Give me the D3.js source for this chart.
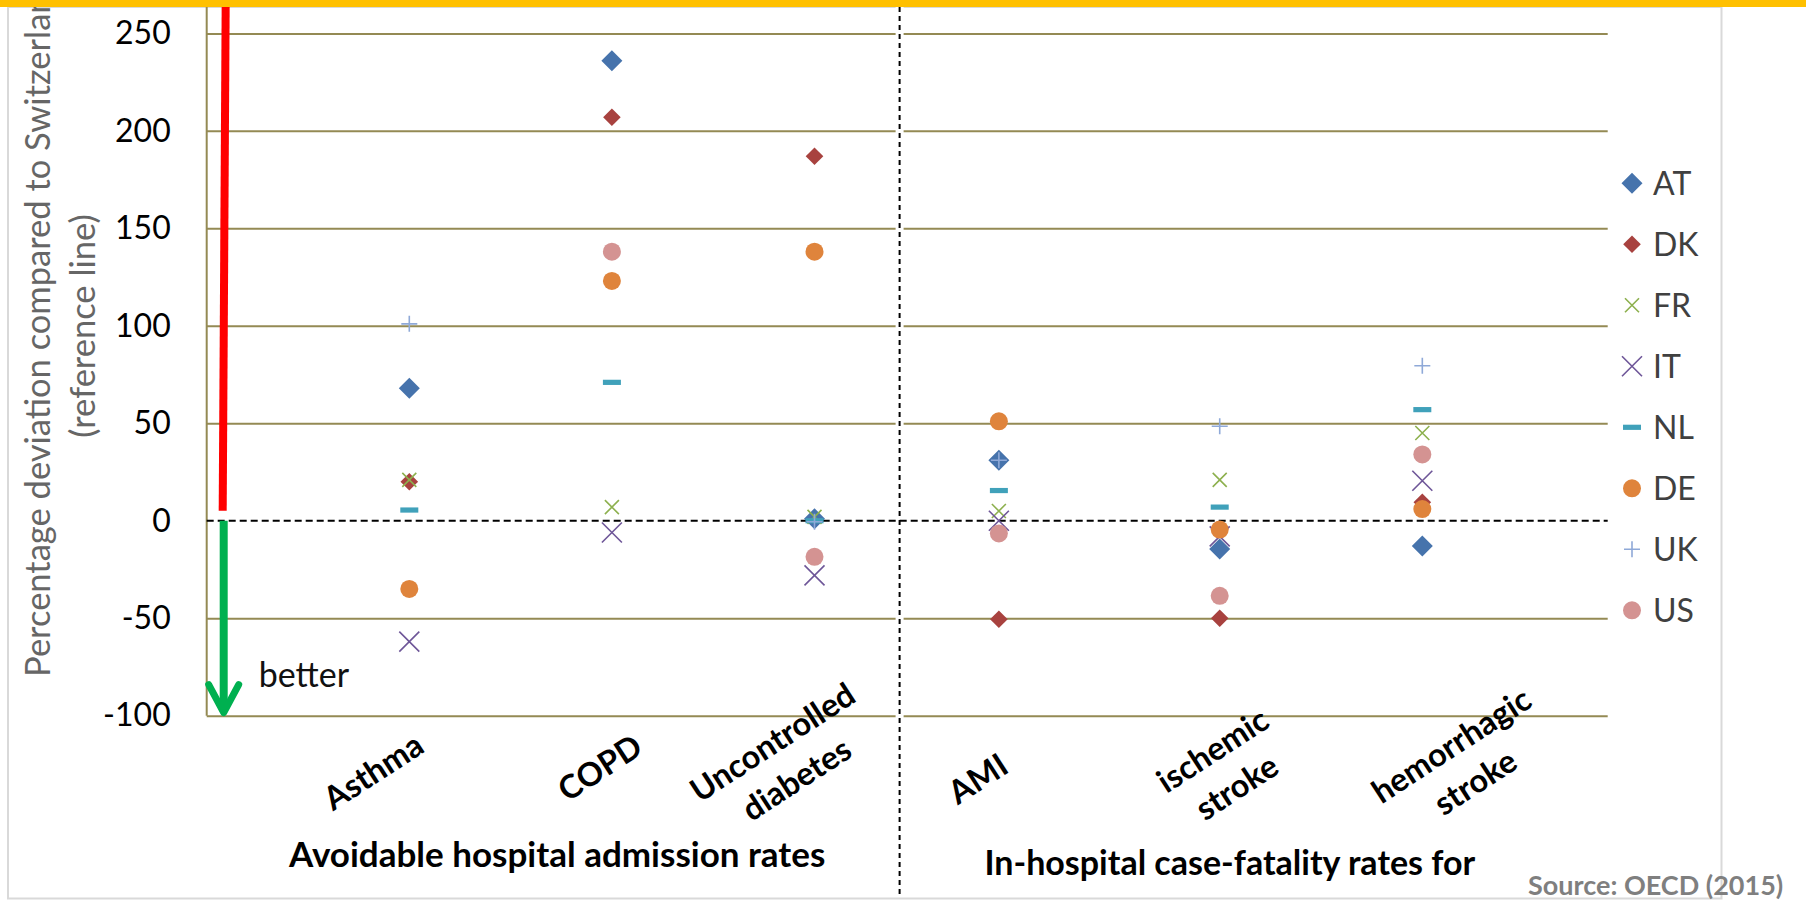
<!DOCTYPE html>
<html>
<head>
<meta charset="utf-8">
<script src="https://cdn.jsdelivr.net/npm/d3@7"></script>
<style>
  body { margin: 0; background: #fff; }
  svg { display: block; }
  text { font-family: Lato, "Open Sans", "Noto Sans", sans-serif; }
</style>
</head>
<body>
<svg id="chart" width="1806" height="901"></svg>
<script>
// ---- data ----
const categories = ["Asthma", "COPD", "Uncontrolled\ndiabetes", "AMI", "ischemic\nstroke", "hemorrhagic\nstroke"];
const categoryX = [1, 2, 3, 3.91, 5, 6];
const groupTitles = ["Avoidable hospital admission rates", "In-hospital case-fatality rates for"];
const countries = ["AT", "DK", "FR", "IT", "NL", "DE", "UK", "US"];

// percentage deviation from Switzerland, one value per category (null = not reported)
const AT = [68, 236, 1, 31, -14.5, -13];
const DK = [20, 207, 187, -50.5, -50, 9.5];
const FR = [21, 7, 2, 5, 21, 45];
const IT = [-62, -6, -28, 0, -8, 20.5];
const NL = [5.5, 71, 0, 15.5, 7, 57];
const DE = [-35, 123, 138, 51, -4.5, 6];
const UK = [101, null, -0.5, 31, 48.5, 79.5];
const US = [null, 138, -18.5, -6.5, -38.5, 34];
const seriesValues = { AT, DK, FR, IT, NL, DE, UK, US };

const yTicks = [250, 200, 150, 100, 50, 0, -50, -100];
const yTitle = ["Percentage deviation compared to Switzerland", "(reference line)"];
const sourceNote = "Source: OECD (2015)";
const arrowNote = "better";

// ---- layout ----
const W = 1806, H = 901;
const plot = { left: 206.7, right: 1607.7, top: 33.4, bottom: 715.7 };
const xDomain = [0, 6.915];
const separatorAt = 3.42;          // boundary between the two indicator groups
const groupTitlePos = [1.73, 5.05];  // x (in axis units) where each group title is centred
// centre of each rotated category label, relative to its tick on the bottom axis
const labelShift = [[-36, 56], [-12, 52], [-30, 45], [-21, 63], [5, 53], [41, 48]];

const style = {
  AT: { shape: "diamond", r: 10.5, color: "#4673AC" },
  DK: { shape: "diamond", r: 8.8, color: "#A8423F" },
  FR: { shape: "x", r: 7, color: "#8DB04E", sw: 1.6 },
  IT: { shape: "x", r: 10, color: "#6E5698", sw: 1.6 },
  NL: { shape: "dash", r: 9, color: "#40A1BA" },
  DE: { shape: "circle", r: 9, color: "#DF843C" },
  UK: { shape: "plus", r: 8, color: "#8FA9D8", sw: 1.6 },
  US: { shape: "circle", r: 9, color: "#D49392" }
};

const svg = d3.select("#chart");
const x = d3.scaleLinear().domain(xDomain).range([plot.left, plot.right]);
const y = d3.scaleLinear().domain([-100, 250]).range([plot.bottom, plot.top]);

// chart frame
svg.append("rect")
  .attr("x", 8).attr("y", 7).attr("width", 1713.5).attr("height", 891.5)
  .attr("fill", "none").attr("stroke", "#D9D9D9").attr("stroke-width", 2);

// horizontal gridlines and tick labels
const yAxis = d3.axisLeft(y)
  .tickValues(yTicks)
  .tickSize(-(plot.right - plot.left))
  .tickPadding(36)
  .tickFormat(d => String(d));
const gy = svg.append("g").attr("transform", `translate(${plot.left},0)`).call(yAxis);
gy.select(".domain").remove();
gy.selectAll(".tick line")
  .attr("stroke", "#948A54").attr("stroke-width", 2)
  .attr("opacity", d => d === 0 ? 0 : 1);
gy.selectAll(".tick text")
  .attr("font-size", 32).attr("fill", "#000")
  .attr("font-family", "Lato, sans-serif");

// left axis line runs to the top of the frame
svg.append("line")
  .attr("x1", plot.left).attr("x2", plot.left)
  .attr("y1", 0).attr("y2", plot.bottom)
  .attr("stroke", "#948A54").attr("stroke-width", 2);

// vertical separator between the two groups
const sx = x(separatorAt);
svg.append("line").attr("x1", sx).attr("x2", sx).attr("y1", 7).attr("y2", 897)
  .attr("stroke", "#fff").attr("stroke-width", 8);
svg.append("line").attr("x1", sx).attr("x2", sx).attr("y1", 7).attr("y2", 897)
  .attr("stroke", "#000").attr("stroke-width", 2).attr("stroke-dasharray", "5,4");

// reference line at zero
svg.append("line")
  .attr("x1", plot.left).attr("x2", plot.right)
  .attr("y1", y(0)).attr("y2", y(0))
  .attr("stroke", "#000").attr("stroke-width", 2).attr("stroke-dasharray", "7,4");

// "worse" / "better" arrows
const ax = plot.left + 17;
svg.append("line")
  .attr("x1", ax + 2).attr("y1", 0).attr("x2", ax - 1).attr("y2", y(0) - 10)
  .attr("stroke", "#FF0000").attr("stroke-width", 8);
svg.append("line")
  .attr("x1", ax).attr("y1", y(0)).attr("x2", ax).attr("y2", y(-100) - 4)
  .attr("stroke", "#00B050").attr("stroke-width", 8);
svg.append("path")
  .attr("d", `M${ax - 15},${y(-100) - 31} L${ax},${y(-100) - 3} L${ax + 15},${y(-100) - 31}`)
  .attr("fill", "none").attr("stroke", "#00B050").attr("stroke-width", 7)
  .attr("stroke-linecap", "round").attr("stroke-linejoin", "round");
svg.append("text")
  .attr("x", ax + 35).attr("y", y(-85) + 1)
  .attr("font-size", 34).attr("fill", "#111").text(arrowNote);

// marker drawing
function drawMarker(sel, s) {
  const r = s.r;
  if (s.shape === "diamond") {
    sel.append("path").attr("d", `M0,${-r} L${r},0 L0,${r} L${-r},0 Z`).attr("fill", s.color);
  } else if (s.shape === "circle") {
    sel.append("circle").attr("r", r).attr("fill", s.color);
  } else if (s.shape === "x") {
    sel.append("path").attr("d", `M${-r},${-r} L${r},${r} M${-r},${r} L${r},${-r}`)
      .attr("stroke", s.color).attr("stroke-width", s.sw).attr("fill", "none");
  } else if (s.shape === "plus") {
    sel.append("path").attr("d", `M${-r},0 L${r},0 M0,${-r} L0,${r}`)
      .attr("stroke", s.color).attr("stroke-width", s.sw).attr("fill", "none");
  } else if (s.shape === "dash") {
    sel.append("rect").attr("x", -r).attr("y", -2.6).attr("width", 2 * r).attr("height", 5.2)
      .attr("fill", s.color);
  }
}

// data points
countries.forEach(c => {
  const pts = seriesValues[c]
    .map((v, i) => ({ v, xv: categoryX[i] }))
    .filter(d => d.v !== null);
  svg.append("g").attr("class", "series-" + c)
    .selectAll("g").data(pts).join("g")
    .attr("transform", d => `translate(${x(d.xv)},${y(d.v)})`)
    .each(function () { drawMarker(d3.select(this), style[c]); });
});

// category labels (rotated, multi-line centred)
categories.forEach((c, i) => {
  const lines = c.split("\n");
  const g = svg.append("g")
    .attr("transform", `translate(${x(categoryX[i]) + labelShift[i][0]},${plot.bottom + labelShift[i][1]}) rotate(-33)`);
  lines.forEach((ln, j) => {
    g.append("text")
      .attr("text-anchor", "middle")
      .attr("y", (j - (lines.length - 1) / 2) * 44 + 11.5)
      .attr("font-size", 32.5).attr("font-weight", 700).attr("fill", "#000")
      .text(ln);
  });
});

// group titles
svg.append("text").attr("x", x(groupTitlePos[0])).attr("y", 866.7)
  .attr("text-anchor", "middle").attr("font-size", 35).attr("font-weight", 700)
  .text(groupTitles[0]);
svg.append("text").attr("x", x(groupTitlePos[1])).attr("y", 875)
  .attr("text-anchor", "middle").attr("font-size", 34).attr("font-weight", 700)
  .text(groupTitles[1]);

// y axis title (runs past the top edge of the frame)
yTitle.forEach((t, i) => {
  svg.append("text")
    .attr("transform", `translate(${50 + i * 44.8},326) rotate(-90)`)
    .attr("text-anchor", "middle").attr("font-size", 34.5).attr("fill", "#666")
    .text(t);
});

// legend
const legend = svg.append("g").attr("transform", "translate(1632,183.3)");
countries.forEach((c, i) => {
  const row = legend.append("g").attr("transform", `translate(0,${i * 61})`);
  drawMarker(row, style[c]);
  row.append("text").attr("x", 21).attr("y", 11.5)
    .attr("font-size", 32).attr("fill", "#404040").text(c);
});

// source note
svg.append("text").attr("x", 1528).attr("y", 895)
  .attr("font-size", 27).attr("font-weight", 700).attr("fill", "#7F7F7F")
  .text(sourceNote);

// accent bar across the top
svg.append("rect").attr("x", 0).attr("y", 0).attr("width", W).attr("height", 7)
  .attr("fill", "#FFC000");
</script>
</body>
</html>
